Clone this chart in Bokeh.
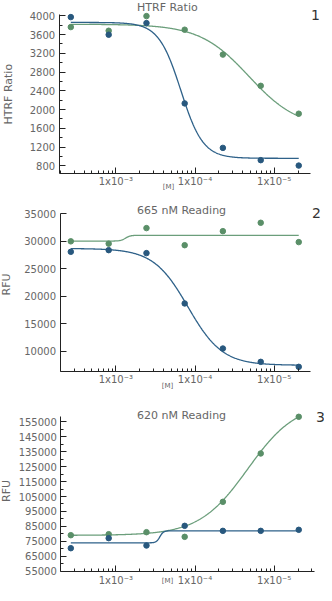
import numpy as np
from bokeh.plotting import figure
from bokeh.layouts import column
from bokeh.models import (Range1d, FixedTicker, LogTicker, Label,
                          CustomJSTickFormatter, BasicTickFormatter)
from bokeh.embed import file_html
from bokeh.resources import INLINE

# ---------------- data ----------------
CONC_M = [3.7e-3, 1.23e-3, 4.1e-4, 1.35e-4, 4.45e-5, 1.48e-5, 4.9e-6]

HTRF_BLUE = [3972, 3596, 3844, 2131, 1182, 920, 805]
HTRF_GREEN = [3759, 3681, 3993, 3703, 3172, 2506, 1911]

R665_BLUE = [28100, 28400, 27860, 18720, 10540, 8120, 7210]
R665_GREEN = [30000, 29580, 32400, 29300, 31850, 33370, 29860]

R620_BLUE = [70400, 77100, 72200, 85360, 82000, 82000, 82700]
R620_GREEN = [79100, 79780, 81120, 78000, 101430, 133800, 158350]

# 4-parameter logistic fits as drawn: (left plateau, right plateau, log10 EC50 [M], Hill slope)
HTRF_BLUE_FIT = (3858, 960, -3.821, 3.1)
HTRF_GREEN_FIT = (3820, 1600, -4.68, 1.4)
R665_BLUE_FIT = (28700, 7500, -3.911, 2.0)
R665_GREEN_FIT = (30050, 31100, -3.122, 14.0)
R620_BLUE_FIT = (74000, 82000, -3.556, 20.0)
R620_GREEN_FIT = (79000, 168000, -4.667, 1.42)

TITLES = ["HTRF Ratio", "665 nM Reading", "620 nM Reading"]
Y_TITLES = ["HTRF Ratio", "RFU", "RFU"]
PANEL_NUMBERS = ["1", "2", "3"]
X_TITLE = "[M]"

HTRF_TICKS = [800, 1200, 1600, 2000, 2400, 2800, 3200, 3600, 4000]
HTRF_MINOR = [1000, 1400, 1800, 2200, 2600, 3000, 3400, 3800]
R665_TICKS = [10000, 15000, 20000, 25000, 30000, 35000]
R620_TICKS = [55000, 65000, 75000, 85000, 95000, 105000, 115000,
              125000, 135000, 145000, 155000]
R620_MINOR = [60000, 70000, 80000, 90000, 100000, 110000, 120000,
              130000, 140000, 150000]

# x is shown as 1/[M] on a log scale (concentration decreasing to the right)
X_VIEW = (35.0, 4.315e5)
# per panel: visible y window, y-axis position (x units), x-axis position (y units),
# x-axis bounds, y-axis bounds
Y_VIEW = [(102.4, 4326), (1828, 37778), (45425, 171941)]
YAXIS_AT = [192.9, 197.5, 202.2]
XAXIS_AT = [635.7, 6368, 54598]
X_BOUNDS = [(192.9, 2.897e5), (197.5, 2.897e5), (202.2, 3.199e5)]
Y_BOUNDS = [(635.7, 4034), (6368, 35000), (54598, 158348)]

# ---------------- styling ----------------
BLUE_PT, BLUE_LN = "#28587e", "#2e6189"
GREEN_PT, GREEN_LN = "#5a8f68", "#6b9e7b"
TXT = "#666666"
AX = "#222222"
FONT = "DejaVu Sans"

W = 324
HEIGHTS = [198, 198, 189]
# screen positions (canvas px, y measured up from the canvas bottom)
TITLE_POS = [(136.5, 191), (136.5, 186), (136.5, 170.3)]
NUM_POS = [(315, 184), (316, 184), (320, 168.7)]
YTITLE_POS = [(8.2, 104.3), (5.8, 112), (5.8, 94.5)]
XTITLE_POS = [(168, 12), (167, 11), (167, 5)]

SUP = {"0": "\u2070", "1": "\u00b9", "2": "\u00b2", "3": "\u00b3", "4": "\u2074",
       "5": "\u2075", "6": "\u2076", "7": "\u2077", "8": "\u2078", "9": "\u2079",
       "-": "\u207b"}

xfmt_code = """
const sup = %s;
const e = -Math.round(Math.log10(tick));
const s = String(e).split('').map(c => sup[c]).join('');
return '1x10' + s;
""" % (str(SUP).replace("'", '"'))


def fit_curve(params):
    left, right, log_ec50, hill = params
    u = np.linspace(-np.log10(CONC_M[0]), -np.log10(CONC_M[-1]), 400)
    y = right + (left - right) / (1.0 + 10.0 ** (hill * (u + log_ec50)))
    return 10.0 ** u, y


def txt(p, x, y, text, size, color, align="center", angle=0.0):
    p.add_layout(Label(x=x, y=y, x_units="screen", y_units="screen", text=text,
                       angle=angle, text_font=FONT, text_font_size=size,
                       text_color=color, text_align=align, text_baseline="middle"))


def make_panel(i, series, yticks, yminor):
    h = HEIGHTS[i]
    p = figure(width=W, height=h, x_axis_type="log",
               x_range=Range1d(*X_VIEW), y_range=Range1d(*Y_VIEW[i]),
               output_backend="svg", toolbar_location=None, title=None,
               min_border=0, min_border_top=0, min_border_bottom=0,
               min_border_left=0, min_border_right=0)
    p.outline_line_color = None
    p.grid.visible = False
    p.background_fill_color = "white"
    p.border_fill_color = "white"

    # x axis
    xa = p.xaxis[0]
    xa.fixed_location = XAXIS_AT[i]
    xa.bounds = X_BOUNDS[i]
    xa.ticker = LogTicker(num_minor_ticks=10)
    xa.formatter = CustomJSTickFormatter(code=xfmt_code)
    xa.major_tick_in = 6
    xa.major_tick_out = 0
    xa.minor_tick_in = 3
    xa.minor_tick_out = 0
    xa.major_label_standoff = 3
    xa.major_label_text_font = FONT
    xa.major_label_text_font_size = "10px"
    xa.major_label_text_color = TXT
    xa.axis_line_color = AX
    xa.major_tick_line_color = AX
    xa.minor_tick_line_color = AX

    # y axis
    ya = p.yaxis[0]
    ya.fixed_location = YAXIS_AT[i]
    ya.bounds = Y_BOUNDS[i]
    ya.ticker = FixedTicker(ticks=yticks, minor_ticks=yminor)
    ya.formatter = BasicTickFormatter(use_scientific=False)
    ya.major_tick_in = 6
    ya.major_tick_out = 0
    ya.minor_tick_in = 3
    ya.minor_tick_out = 0
    ya.major_label_standoff = 4
    ya.major_label_text_font = FONT
    ya.major_label_text_font_size = "10px"
    ya.major_label_text_color = TXT
    ya.axis_line_color = AX
    ya.major_tick_line_color = AX
    ya.minor_tick_line_color = AX

    inv_conc = [1.0 / c for c in CONC_M]
    for vals, fit, pc, lc in series:
        cx, cy = fit_curve(fit)
        p.line(cx, cy, line_color=lc, line_width=1.3)
        p.scatter(inv_conc, vals, size=5.5, fill_color=pc, line_color=pc)

    tx, ty = TITLE_POS[i]
    txt(p, tx, ty, TITLES[i], "11px", TXT, align="left")
    nx, ny = NUM_POS[i]
    txt(p, nx, ny, PANEL_NUMBERS[i], "14px", "#333333")
    yx, yy = YTITLE_POS[i]
    txt(p, yx, yy, Y_TITLES[i], "11px", TXT, angle=np.pi / 2)
    mx, my = XTITLE_POS[i]
    txt(p, mx, my, X_TITLE, "7px", TXT)
    return p


p1 = make_panel(0, [(HTRF_GREEN, HTRF_GREEN_FIT, GREEN_PT, GREEN_LN),
                    (HTRF_BLUE, HTRF_BLUE_FIT, BLUE_PT, BLUE_LN)],
                HTRF_TICKS, HTRF_MINOR)
p2 = make_panel(1, [(R665_GREEN, R665_GREEN_FIT, GREEN_PT, GREEN_LN),
                    (R665_BLUE, R665_BLUE_FIT, BLUE_PT, BLUE_LN)],
                R665_TICKS, [])
p3 = make_panel(2, [(R620_GREEN, R620_GREEN_FIT, GREEN_PT, GREEN_LN),
                    (R620_BLUE, R620_BLUE_FIT, BLUE_PT, BLUE_LN)],
                R620_TICKS, R620_MINOR)

layout = column(p1, p2, p3)
open("out.html", "w").write(file_html(layout, INLINE))
